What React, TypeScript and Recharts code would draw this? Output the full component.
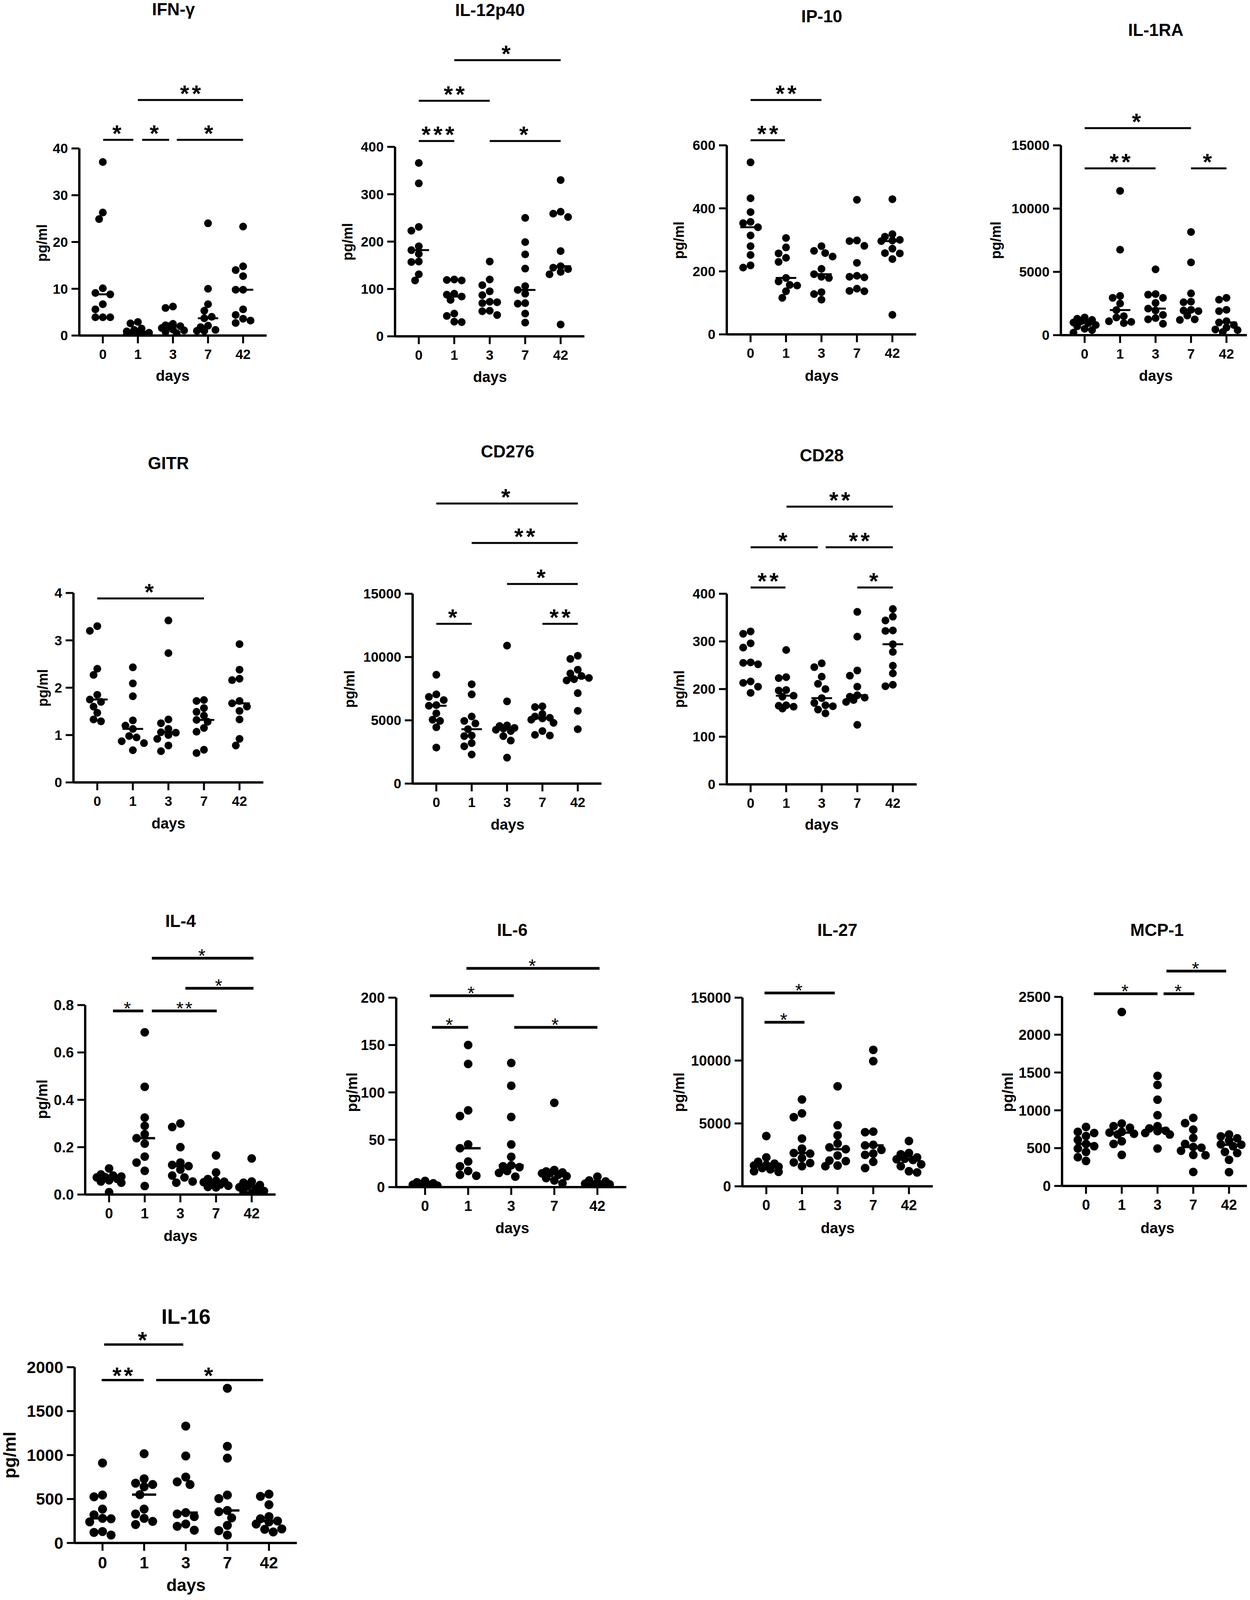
import React from 'react'
import { ScatterChart, Scatter, XAxis, YAxis, ReferenceLine } from 'recharts'

const FONT = "'Liberation Sans', Arial, Helvetica, sans-serif"
const DAYS = ['0', '1', '3', '7', '42']

// values per day group (0, 1, 3, 7, 42), pg/ml
const IFN_G = [
  [37.1, 26.3, 24.9, 10.1, 9.1, 8.8, 6.7, 5.6, 3.9, 3.9, 3.9],
  [2.9, 2.6, 1.5, 1.2, 0.9, 0.6, 0.5, 0.3, 0.2, 0.1, 0.1],
  [6.2, 5.9, 2.5, 2.2, 2.0, 2.0, 1.6, 1.3, 1.1, 0.8, 0.5],
  [24.0, 10.0, 6.7, 5.3, 4.0, 3.7, 2.1, 1.8, 1.2, 1.0, 1.0],
  [23.3, 14.8, 14.0, 12.7, 9.8, 9.8, 5.6, 4.4, 3.6, 3.2, 2.7],
]
const IL_12P40 = [
  [366, 323, 231, 223, 190, 182, 174, 158, 157, 131, 118],
  [120, 119, 118, 90, 88, 84, 77, 48, 43, 31, 30],
  [158, 120, 108, 95, 87, 73, 72, 70, 54, 53, 45],
  [250, 199, 173, 143, 106, 98, 90, 70, 69, 48, 29],
  [330, 263, 259, 252, 180, 148, 145, 142, 136, 131, 25],
]
const IP_10 = [
  [546, 432, 388, 357, 353, 340, 314, 280, 252, 219, 212],
  [306, 276, 257, 243, 230, 179, 168, 157, 155, 137, 116],
  [280, 265, 258, 247, 208, 191, 183, 179, 134, 128, 110],
  [427, 298, 296, 281, 227, 186, 183, 181, 145, 138, 137],
  [429, 318, 310, 300, 298, 296, 272, 258, 257, 239, 62],
]
const IL_1RA = [
  [1400, 1300, 1200, 1100, 1000, 950, 800, 700, 500, 400, 200],
  [11400, 6750, 3100, 2950, 2500, 1980, 1500, 1400, 1100, 1050, 950],
  [5200, 3250, 3200, 2950, 2550, 2100, 1950, 1600, 1350, 1250, 900],
  [8150, 5750, 3300, 2650, 2600, 2000, 1950, 1900, 1550, 1250, 1200],
  [2950, 2800, 2000, 1900, 1100, 1000, 800, 600, 450, 400, 250],
]
const GITR = [
  [3.3, 3.2, 2.4, 2.27, 1.85, 1.75, 1.7, 1.6, 1.47, 1.33, 1.29],
  [2.43, 2.09, 1.82, 1.31, 1.2, 1.13, 0.98, 0.95, 0.87, 0.83, 0.68],
  [3.42, 2.73, 1.33, 1.25, 1.13, 1.06, 1.05, 1.0, 0.92, 0.78, 0.66],
  [1.74, 1.72, 1.57, 1.49, 1.41, 1.32, 1.28, 1.15, 1.07, 0.69, 0.62],
  [2.92, 2.38, 2.19, 2.16, 1.72, 1.67, 1.6, 1.51, 1.33, 0.92, 0.78],
]
const CD276 = [
  [8600, 7050, 6850, 6600, 6200, 6150, 5550, 5050, 4950, 4450, 2850],
  [7850, 7050, 5300, 4950, 4750, 4300, 3800, 3750, 3200, 2950, 2300],
  [10900, 6500, 4600, 4550, 4400, 4350, 4250, 4150, 3750, 3400, 2050],
  [6100, 6050, 5500, 5300, 5200, 5150, 5050, 4800, 4150, 3850, 3800],
  [10100, 9850, 9000, 8700, 8500, 8350, 8250, 8150, 7150, 5750, 4300],
]
const CD28 = [
  [321, 316, 296, 287, 256, 255, 252, 216, 213, 205, 192],
  [282, 225, 223, 198, 197, 186, 184, 166, 165, 163, 159],
  [254, 246, 226, 211, 200, 181, 171, 166, 164, 157, 149],
  [362, 310, 239, 228, 205, 187, 184, 182, 177, 173, 125],
  [368, 352, 344, 323, 322, 294, 278, 249, 233, 209, 206],
]
const IL_4 = [
  [0.11, 0.085, 0.08, 0.076, 0.074, 0.072, 0.066, 0.06, 0.055, 0.05, 0.01],
  [0.685, 0.455, 0.325, 0.29, 0.255, 0.238, 0.215, 0.16, 0.135, 0.1, 0.036],
  [0.3, 0.285, 0.2, 0.135, 0.125, 0.12, 0.105, 0.08, 0.072, 0.055, 0.05],
  [0.165, 0.093, 0.065, 0.058, 0.054, 0.052, 0.048, 0.042, 0.037, 0.032, 0.03],
  [0.152, 0.055, 0.05, 0.04, 0.035, 0.031, 0.025, 0.015, 0.01, 0.005, 0.002],
]
const IL_6 = [
  [6.5, 5, 4, 3.2, 2.5, 2, 1.5, 1.2, 1, 0.6, 0.3],
  [150, 130, 81, 75, 45, 41, 27, 22, 17, 13, 12],
  [131, 107, 74, 45, 32, 23, 22, 21, 17, 15, 11],
  [89, 18, 16.5, 15.5, 15, 14.5, 13, 11.5, 9.5, 7, 4],
  [11, 7, 6, 4.8, 3.6, 2.9, 2.4, 1.9, 1.2, 1.0, 0.5],
]
const IL_27 = [
  [4000, 2300, 1950, 1800, 1700, 1650, 1550, 1450, 1350, 1200, 1150],
  [6900, 5800, 5500, 3800, 3000, 2650, 2600, 2250, 1900, 1850, 1600],
  [7950, 4850, 4050, 3400, 3100, 2950, 2450, 2050, 2000, 1650, 1600],
  [10850, 9950, 4350, 4300, 3300, 3250, 2900, 2600, 2500, 1950, 1450],
  [3600, 2650, 2550, 2300, 2200, 2150, 2100, 1750, 1600, 1200, 1100],
]
const MCP_1 = [
  [780, 715, 700, 660, 610, 555, 525, 495, 450, 380, 330],
  [2300, 825, 790, 770, 715, 705, 690, 680, 590, 555, 410],
  [1455, 1335, 1140, 935, 790, 760, 730, 725, 700, 680, 495],
  [900, 830, 745, 635, 555, 515, 505, 465, 410, 405, 185],
  [680, 655, 630, 600, 550, 545, 525, 450, 435, 345, 182],
]
const IL_16 = [
  [910, 545, 525, 385, 320, 280, 275, 240, 130, 120, 90],
  [1015, 730, 680, 665, 640, 550, 385, 330, 280, 245, 210],
  [1330, 990, 750, 695, 665, 345, 330, 300, 215, 190, 145],
  [1760, 1100, 965, 545, 505, 370, 355, 285, 200, 140, 90],
  [555, 530, 435, 300, 275, 250, 240, 215, 160, 155, 125],
]

// significance bars: from/to in group index, up = px above the top of the y axis
const IFN_G_SIG = [
  { from: 0.01, to: 0.87, up: 22, mark: '*' },
  { from: 1.12, to: 1.89, up: 22, mark: '*' },
  { from: 2.11, to: 4, up: 22, mark: '*' },
  { from: 1, to: 4, up: 124, mark: '**' },
]
const IL_12P40_SIG = [
  { from: 0, to: 1, up: 15, mark: '***' },
  { from: 2, to: 4, up: 15, mark: '*' },
  { from: 0, to: 2, up: 118, mark: '**' },
  { from: 1, to: 4, up: 222, mark: '*' },
]
const IP_10_SIG = [
  { from: 0, to: 0.97, up: 13, mark: '**' },
  { from: 0, to: 2, up: 116, mark: '**' },
]
const IL_1RA_SIG = [
  { from: 0, to: 2, up: -59, mark: '**' },
  { from: 3, to: 4, up: -59, mark: '*' },
  { from: 0, to: 3, up: 44, mark: '*' },
]
const GITR_SIG = [{ from: 0, to: 3, up: -14, mark: '*' }]
const CD276_SIG = [
  { from: 0, to: 1, up: -77, mark: '*' },
  { from: 3, to: 4, up: -77, mark: '**' },
  { from: 2, to: 4, up: 25, mark: '*' },
  { from: 1, to: 4, up: 130, mark: '**' },
  { from: 0, to: 4, up: 231, mark: '*' },
]
const CD28_SIG = [
  { from: 0, to: 0.98, up: 16, mark: '**' },
  { from: 3, to: 4, up: 16, mark: '*' },
  { from: 0, to: 1.89, up: 119, mark: '*' },
  { from: 2.11, to: 4, up: 119, mark: '**' },
  { from: 1.01, to: 4, up: 223, mark: '**' },
]
const IL_4_SIG = [
  { from: 0.11, to: 0.96, up: -15, mark: '*' },
  { from: 1.2, to: 3.02, up: -15, mark: '**' },
  { from: 2.14, to: 4.05, up: 43, mark: '*' },
  { from: 1.2, to: 4.05, up: 120, mark: '*' },
]
const IL_6_SIG = [
  { from: 0.16, to: 1, up: -76, mark: '*' },
  { from: 2.07, to: 4, up: -76, mark: '*' },
  { from: 0.11, to: 2.06, up: 5, mark: '*' },
  { from: 0.96, to: 4.05, up: 75, mark: '*' },
]
const IL_27_SIG = [
  { from: -0.05, to: 1.07, up: -63, mark: '*' },
  { from: -0.05, to: 1.92, up: 12, mark: '*' },
]
const MCP_1_SIG = [
  { from: 0.22, to: 2, up: 8, mark: '*' },
  { from: 2.17, to: 3.03, up: 8, mark: '*' },
  { from: 2.25, to: 3.92, up: 66, mark: '*' },
]
const IL_16_SIG = [
  { from: -0.02, to: 0.99, up: -33, mark: '**' },
  { from: 1.29, to: 3.86, up: -33, mark: '*' },
  { from: 0.04, to: 1.94, up: 58, mark: '*' },
]

const ROW_A = { tick: 35, title: 44, days: 38, unit: 36, star: 60, starWeight: 700, starGap: 31, spacing: 7, bar: 5, axis: 6, tickMargin: 15, dot: 10, med: 5 }
const ROW_C = { tick: 37, title: 44, days: 38, unit: 38, star: 48, starWeight: 400, starGap: 18, spacing: 4, bar: 7, axis: 6, tickMargin: 15, dot: 11, med: 6 }
const ROW_D = { tick: 42, title: 54, days: 44, unit: 45, star: 60, starWeight: 700, starGap: 26, spacing: 6, bar: 6, axis: 6, tickMargin: 15, dot: 11.5, med: 6 }

const PANELS = [
  { title: 'IFN-γ', data: IFN_G, sig: IFN_G_SIG, max: 40, ticks: [0, 10, 20, 30, 40], t0: 263, t4: 622, top: 380, bottom: 859, titleAt: [444, 24], daysAt: [442, 962], unitAt: [108, 622], s: ROW_A },
  { title: 'IL-12p40', data: IL_12P40, sig: IL_12P40_SIG, max: 400, ticks: [0, 100, 200, 300, 400], t0: 1072, t4: 1435, top: 376, bottom: 861, titleAt: [1254, 26], daysAt: [1254, 965], unitAt: [890, 619], s: ROW_A },
  { title: 'IP-10', data: IP_10, sig: IP_10_SIG, max: 600, ticks: [0, 200, 400, 600], t0: 1921, t4: 2284, top: 372, bottom: 856, titleAt: [2103, 42], daysAt: [2103, 962], unitAt: [1738, 615], s: ROW_A },
  { title: 'IL-1RA', data: IL_1RA, sig: IL_1RA_SIG, max: 15000, ticks: [0, 5000, 10000, 15000], t0: 2776, t4: 3139, top: 372, bottom: 858, titleAt: [2958, 77], daysAt: [2958, 962], unitAt: [2549, 615], s: ROW_A },
  { title: 'GITR', data: GITR, sig: GITR_SIG, max: 4, ticks: [0, 1, 2, 3, 4], t0: 249, t4: 613, top: 1518, bottom: 2003, titleAt: [431, 1186], daysAt: [431, 2108], unitAt: [110, 1761], s: ROW_A },
  { title: 'CD276', data: CD276, sig: CD276_SIG, max: 15000, ticks: [0, 5000, 10000, 15000], t0: 1117, t4: 1479, top: 1520, bottom: 2006, titleAt: [1299, 1156], daysAt: [1299, 2111], unitAt: [895, 1764], s: ROW_A },
  { title: 'CD28', data: CD28, sig: CD28_SIG, max: 400, ticks: [0, 100, 200, 300, 400], t0: 1921, t4: 2285, top: 1520, bottom: 2008, titleAt: [2103, 1166], daysAt: [2103, 2111], unitAt: [1739, 1764], s: ROW_A },
  { title: 'IL-4', data: IL_4, sig: IL_4_SIG, max: 0.8, ticks: [0, 0.2, 0.4, 0.6, 0.8], t0: 279, t4: 644, top: 2573, bottom: 3058, titleAt: [462, 2358], daysAt: [462, 3164], unitAt: [108, 2814], s: ROW_C, fixed: 1 },
  { title: 'IL-6', data: IL_6, sig: IL_6_SIG, max: 200, ticks: [0, 50, 100, 150, 200], t0: 1088, t4: 1529, top: 2554, bottom: 3039, titleAt: [1311, 2381], daysAt: [1311, 3144], unitAt: [901, 2796], s: ROW_C },
  { title: 'IL-27', data: IL_27, sig: IL_27_SIG, max: 15000, ticks: [0, 5000, 10000, 15000], t0: 1961, t4: 2326, top: 2554, bottom: 3037, titleAt: [2143, 2381], daysAt: [2144, 3144], unitAt: [1738, 2796], s: ROW_C },
  { title: 'MCP-1', data: MCP_1, sig: MCP_1_SIG, max: 2500, ticks: [0, 500, 1000, 1500, 2000, 2500], t0: 2779, t4: 3145, top: 2552, bottom: 3036, titleAt: [2961, 2381], daysAt: [2962, 3144], unitAt: [2579, 2796], s: ROW_C },
  // squeezed a little so its axis labels stay inside the captured page
  { title: 'IL-16', data: IL_16, sig: IL_16_SIG, max: 2000, ticks: [0, 500, 1000, 1500, 2000], t0: 262, t4: 688, top: 3500, bottom: 3950, titleAt: [476, 3370], daysAt: [476, 4058], unitAt: [24, 3725], s: ROW_D },
]

const PAD = 0.67
const Y_W = 170
const M_T = 330
const M_R = 30
const X_H = 110

// simple beeswarm: spread points of one group sideways, overlapping when crowded
function swarm(vals: number[], pxPerUnit: number, d: number) {
  const order = vals.map((_, i) => i).sort((a, b) => vals[b] - vals[a])
  const placed: { px: number; py: number }[] = []
  const out: number[] = new Array(vals.length).fill(0)
  const steps = [0, -0.5, 0.5, -1, 1, -1.5, 1.5]
  for (const i of order) {
    const py = vals[i] * pxPerUnit
    let chosen: number | null = null
    let best = 0
    let bestD = -1
    for (const c of steps) {
      const px = c * d * 0.95
      const md = placed.reduce((m, p) => Math.min(m, Math.hypot(p.px - px, p.py - py)), Infinity)
      if (md >= d * 0.92) {
        chosen = px
        break
      }
      if (md > bestD) {
        bestD = md
        best = px
      }
    }
    const px = chosen === null ? best : chosen
    placed.push({ px, py })
    out[i] = px
  }
  return out
}

function median(vals: number[]) {
  const s = [...vals].sort((a, b) => a - b)
  const m = Math.floor(s.length / 2)
  return s.length % 2 ? s[m] : (s[m - 1] + s[m]) / 2
}

function Txt({ at, size, children, rotate }: any) {
  return (
    <div
      style={{
        position: 'absolute',
        left: at[0],
        top: at[1],
        transform: `translate(-50%, -50%)${rotate ? ' rotate(-90deg)' : ''}`,
        fontSize: size,
        fontWeight: 700,
        lineHeight: 1,
        whiteSpace: 'nowrap',
        color: '#000',
        fontFamily: FONT,
      }}
    >
      {children}
    </div>
  )
}

function Panel({ p }: any) {
  const s = p.s
  const sp = (p.t4 - p.t0) / 4
  const L = p.t0 - PAD * sp
  const R = p.t4 + PAD * sp
  const plotW = R - L
  const plotH = p.bottom - p.top
  const pts: { x: number; y: number }[] = []
  p.data.forEach((vals: number[], g: number) => {
    const off = swarm(vals, plotH / p.max, s.dot * 2)
    vals.forEach((v, k) => pts.push({ x: g + off[k] / sp, y: v }))
  })
  const W = Y_W + plotW + M_R
  const H = M_T + plotH + X_H
  const tickStyle = { fill: '#000', fontSize: s.tick, fontWeight: 700, fontFamily: FONT }
  return (
    <div style={{ position: 'absolute', left: L - Y_W, top: p.top - M_T, width: W, height: H }}>
      <ScatterChart width={W} height={H} margin={{ top: M_T, right: M_R, bottom: 0, left: 0 }}>
        <XAxis
          type="number"
          dataKey="x"
          domain={[-PAD, 4 + PAD]}
          ticks={[0, 1, 2, 3, 4]}
          interval={0}
          tickFormatter={(v: number) => DAYS[v]}
          height={X_H}
          tickSize={20}
          tickMargin={s.tickMargin}
          axisLine={{ stroke: '#000', strokeWidth: s.axis }}
          tickLine={{ stroke: '#000', strokeWidth: 5 }}
          tick={tickStyle}
          allowDataOverflow
        />
        <YAxis
          type="number"
          dataKey="y"
          domain={[0, p.max]}
          ticks={p.ticks}
          interval={0}
          width={Y_W}
          tickSize={20}
          tickMargin={9}
          tickFormatter={(v: number) => (p.fixed ? v.toFixed(p.fixed) : String(v))}
          axisLine={{ stroke: '#000', strokeWidth: s.axis }}
          tickLine={{ stroke: '#000', strokeWidth: 5 }}
          tick={tickStyle}
          allowDataOverflow
        />
        {p.data.map((vals: number[], g: number) => {
          const m = median(vals)
          return (
            <ReferenceLine
              key={'m' + g}
              segment={[{ x: g - 0.29, y: m }, { x: g + 0.29, y: m }]}
              stroke="#000"
              strokeWidth={s.med}
              ifOverflow="visible"
            />
          )
        })}
        {p.sig.map((b: any, i: number) => {
          const yv = p.max + (b.up / plotH) * p.max
          return (
            <ReferenceLine
              key={'s' + i}
              segment={[{ x: b.from, y: yv }, { x: b.to, y: yv }]}
              stroke="#000"
              strokeWidth={s.bar}
              ifOverflow="visible"
              label={(lp: any) => {
                const vb = lp.viewBox || {}
                const cx = (vb.x || 0) + (vb.width || 0) / 2
                const cy = (vb.y || 0) - s.starGap + 0.58 * s.star
                return (
                  <text
                    x={cx + (s.spacing * (b.mark.length - 1)) / 2}
                    y={cy}
                    textAnchor="middle"
                    fontSize={s.star}
                    fontWeight={s.starWeight}
                    fontFamily={FONT}
                    letterSpacing={s.spacing}
                    fill="#000"
                  >
                    {b.mark}
                  </text>
                )
              }}
            />
          )
        })}
        <Scatter
          data={pts}
          isAnimationActive={false}
          shape={(sp2: any) => <circle cx={sp2.cx} cy={sp2.cy} r={s.dot} fill="#000" />}
        />
      </ScatterChart>
    </div>
  )
}

export default function App() {
  return (
    <div
      style={{
        position: 'relative',
        margin: -8,
        width: 3199,
        height: 4417,
        overflow: 'hidden',
        background: '#fff',
        fontFamily: FONT,
      }}
    >
      {PANELS.map((p) => (
        <React.Fragment key={p.title}>
          <Panel p={p} />
          <Txt at={p.titleAt} size={p.s.title}>{p.title}</Txt>
          <Txt at={p.daysAt} size={p.s.days}>days</Txt>
          <Txt at={p.unitAt} size={p.s.unit} rotate>pg/ml</Txt>
        </React.Fragment>
      ))}
    </div>
  )
}
